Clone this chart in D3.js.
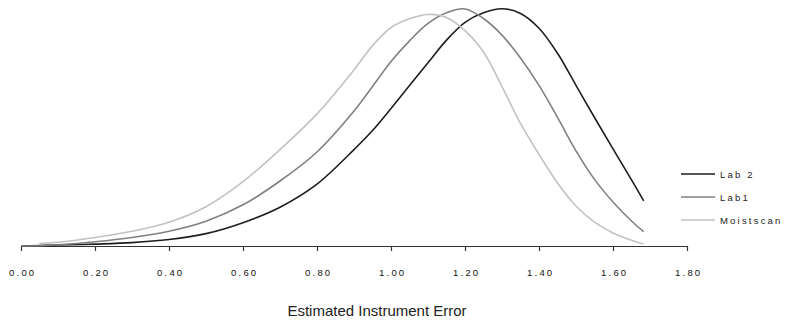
<!DOCTYPE html>
<html>
<head>
<meta charset="utf-8">
<script src="https://cdn.jsdelivr.net/npm/d3@7"></script>
<style>
    body { margin: 0; background: #fff; }
    svg { font-family: "Liberation Sans", Arial, sans-serif; }
</style>
</head>
<body>
<div id="chart"></div>
<script>
// estimated instrument error (x) and relative curve height (y, peak = 1)
const errorPoints = [0, 0.05, 0.1, 0.2, 0.3, 0.4, 0.5, 0.6, 0.7, 0.8, 0.9, 0.95, 1.0, 1.05, 1.1, 1.15, 1.2, 1.25, 1.3, 1.35, 1.4, 1.45, 1.5, 1.55, 1.6, 1.65, 1.683];
const lab2Values = [0, 0.002, 0.004, 0.008, 0.014, 0.027, 0.052, 0.098, 0.163, 0.26, 0.405, 0.485, 0.578, 0.674, 0.77, 0.865, 0.94, 0.98, 0.997, 0.977, 0.915, 0.81, 0.675, 0.54, 0.408, 0.278, 0.19];
const lab1Values = [0, 0.001, 0.005, 0.018, 0.036, 0.062, 0.104, 0.173, 0.273, 0.395, 0.567, 0.67, 0.775, 0.862, 0.935, 0.98, 0.996, 0.956, 0.886, 0.79, 0.675, 0.54, 0.40, 0.28, 0.185, 0.105, 0.06];
const moistscanValues = [null, 0.011, 0.016, 0.036, 0.062, 0.10, 0.165, 0.27, 0.405, 0.555, 0.74, 0.842, 0.918, 0.955, 0.973, 0.96, 0.905, 0.815, 0.67, 0.515, 0.385, 0.265, 0.168, 0.10, 0.055, 0.024, 0.008];
const xTicks = [0, 0.2, 0.4, 0.6, 0.8, 1.0, 1.2, 1.4, 1.6, 1.8];

const series = [
    { name: "Lab 2", values: lab2Values, color: "#1e1e1e" },
    { name: "Lab1", values: lab1Values, color: "#808080" },
    { name: "Moistscan", values: moistscanValues, color: "#c2c2c2" }
];

const width = 787, height = 320;

const svg = d3.select("#chart")
    .append("svg")
    .attr("width", width)
    .attr("height", height);

const x = d3.scaleLinear().domain([0, 1.8]).range([21, 687]);
const y = d3.scaleLinear().domain([0, 1]).range([246, 8]);

// x axis
const axis = svg.append("g")
    .attr("transform", "translate(0,246)")
    .call(d3.axisBottom(x).tickValues(xTicks).tickSize(5).tickSizeOuter(0).tickFormat(d3.format(".2f")));
axis.select(".domain").attr("stroke", "#333").attr("stroke-width", 1.2);
axis.selectAll(".tick line").attr("stroke", "#333").attr("stroke-width", 1.2);
axis.selectAll(".tick text")
    .attr("y", 23)
    .attr("dx", "1.2px")
    .style("font-family", "'Liberation Sans', Arial, sans-serif")
    .style("font-size", "9.5px")
    .style("letter-spacing", "2.2px")
    .attr("fill", "#111");

svg.append("text")
    .attr("x", 377)
    .attr("y", 316)
    .attr("text-anchor", "middle")
    .style("font-size", "15px")
    .attr("fill", "#222")
    .text("Estimated Instrument Error");

// curves
const line = d3.line()
    .defined(d => d[1] !== null)
    .x(d => x(d[0]))
    .y(d => y(d[1]))
    .curve(d3.curveCatmullRom.alpha(0.5));

svg.selectAll(".curve")
    .data(series)
    .enter()
    .append("path")
    .attr("class", "curve")
    .attr("fill", "none")
    .attr("stroke", d => d.color)
    .attr("stroke-width", 1.6)
    .attr("d", d => line(errorPoints.map((e, i) => [e, d.values[i]])));

// legend
const legend = svg.selectAll(".legend")
    .data(series)
    .enter()
    .append("g")
    .attr("class", "legend")
    .attr("transform", (d, i) => `translate(681,${174 + i * 23})`);

legend.append("line")
    .attr("x1", 0)
    .attr("x2", 34)
    .attr("stroke", d => d.color)
    .attr("stroke-width", 1.6);

legend.append("text")
    .attr("x", 39)
    .attr("y", 3.5)
    .style("font-size", "9.5px")
    .style("letter-spacing", "2.2px")
    .attr("fill", "#222")
    .text(d => d.name);
</script>
</body>
</html>
